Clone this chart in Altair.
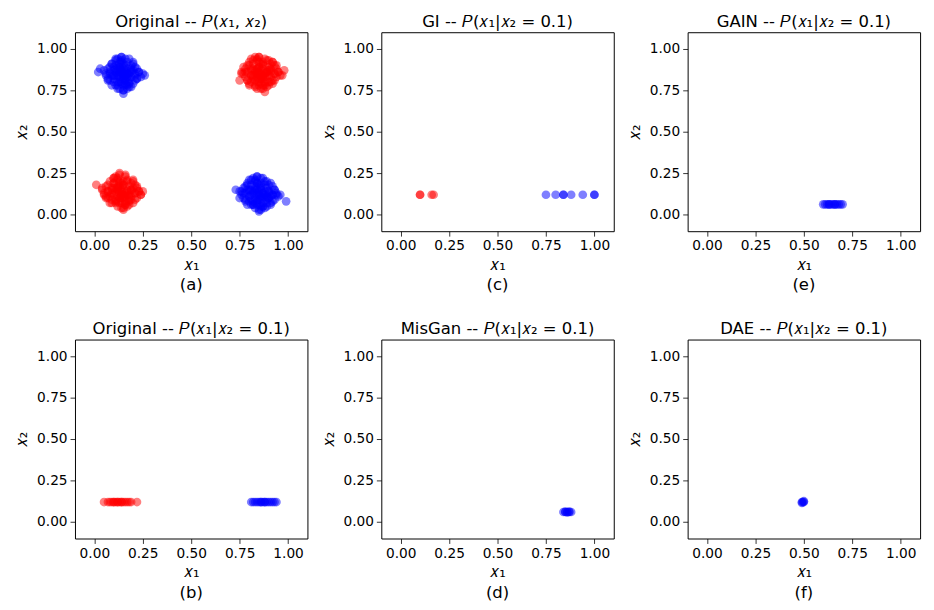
import altair as alt
import pandas as pd

RED = "#ff0000"
BLUE = "#0000ff"
TICKS = [0.0, 0.25, 0.5, 0.75, 1.0]

# ---- panel (a): Original joint distribution ----
A_BLUE_TL_X = [0.15, 0.12, 0.17, 0.10, 0.19, 0.13, 0.16, 0.08, 0.21, 0.14,
               0.11, 0.18, 0.06, 0.23, 0.15, 0.09, 0.20, 0.13, 0.17, 0.12,
               0.16, 0.03, 0.25, 0.10, 0.19, 0.14, 0.07, 0.22, 0.15, 0.11,
               0.18, 0.13, 0.16, 0.02, 0.26, 0.12, 0.17, 0.09, 0.20, 0.15,
               0.13, 0.15, 0.14, 0.16, 0.12, 0.17, 0.14, 0.15, 0.13, 0.16,
               0.11, 0.18, 0.14, 0.15, 0.12, 0.17, 0.13, 0.16, 0.14, 0.15,
               0.10, 0.19, 0.13, 0.16, 0.12, 0.17, 0.14, 0.15, 0.11, 0.18,
               0.08, 0.21, 0.10, 0.19, 0.07, 0.22, 0.09, 0.20, 0.11, 0.18,
               0.06, 0.23, 0.12, 0.17, 0.08, 0.21, 0.10, 0.19, 0.13, 0.16,
               0.09, 0.20, 0.07, 0.22, 0.11, 0.18, 0.12, 0.17, 0.10, 0.19,
               0.14, 0.15, 0.13, 0.16, 0.05, 0.24, 0.08, 0.21, 0.14, 0.15]
A_BLUE_TL_Y = [0.85, 0.87, 0.83, 0.82, 0.88, 0.80, 0.90, 0.86, 0.84, 0.93,
               0.78, 0.79, 0.85, 0.86, 0.75, 0.91, 0.91, 0.86, 0.85, 0.83,
               0.81, 0.88, 0.85, 0.89, 0.77, 0.95, 0.81, 0.82, 0.73, 0.94,
               0.94, 0.89, 0.87, 0.86, 0.84, 0.76, 0.78, 0.84, 0.87, 0.82,
               0.85, 0.84, 0.87, 0.86, 0.84, 0.85, 0.82, 0.88, 0.89, 0.81,
               0.86, 0.85, 0.80, 0.90, 0.88, 0.83, 0.83, 0.84, 0.86, 0.85,
               0.84, 0.87, 0.91, 0.79, 0.80, 0.88, 0.92, 0.78, 0.88, 0.82,
               0.85, 0.85, 0.80, 0.90, 0.88, 0.82, 0.91, 0.79, 0.93, 0.77,
               0.84, 0.86, 0.78, 0.92, 0.81, 0.89, 0.87, 0.83, 0.76, 0.94,
               0.78, 0.92, 0.82, 0.88, 0.90, 0.80, 0.94, 0.76, 0.84, 0.86,
               0.79, 0.91, 0.92, 0.78, 0.87, 0.83, 0.89, 0.81, 0.95, 0.75]

A_RED_TR_X = [0.86, 0.83, 0.89, 0.81, 0.91, 0.85, 0.87, 0.78, 0.93, 0.84,
              0.88, 0.80, 0.92, 0.76, 0.95, 0.86, 0.82, 0.90, 0.84, 0.87,
              0.79, 0.94, 0.85, 0.83, 0.89, 0.77, 0.97, 0.86, 0.81, 0.91,
              0.88, 0.84, 0.75, 0.98, 0.85, 0.82, 0.90, 0.87, 0.80, 0.92,
              0.85, 0.87, 0.86, 0.88, 0.84, 0.89, 0.86, 0.85, 0.87, 0.83,
              0.90, 0.82, 0.86, 0.88, 0.84, 0.87, 0.85, 0.89, 0.83, 0.86,
              0.91, 0.81, 0.85, 0.87, 0.84, 0.88, 0.86, 0.82, 0.90, 0.85,
              0.79, 0.93, 0.81, 0.91, 0.78, 0.94, 0.80, 0.92, 0.82, 0.90,
              0.77, 0.95, 0.83, 0.89, 0.79, 0.93, 0.81, 0.91, 0.84, 0.88,
              0.80, 0.92, 0.78, 0.94, 0.82, 0.90, 0.83, 0.89, 0.81, 0.91,
              0.85, 0.87, 0.84, 0.88, 0.76, 0.96, 0.79, 0.93, 0.85, 0.87]
A_RED_TR_Y = [0.85, 0.87, 0.83, 0.84, 0.88, 0.80, 0.91, 0.86, 0.85, 0.94,
              0.79, 0.90, 0.81, 0.85, 0.86, 0.76, 0.82, 0.93, 0.88, 0.78,
              0.81, 0.90, 0.95, 0.77, 0.86, 0.89, 0.84, 0.83, 0.94, 0.80,
              0.74, 0.85, 0.81, 0.87, 0.89, 0.83, 0.87, 0.82, 0.78, 0.92,
              0.86, 0.84, 0.87, 0.85, 0.83, 0.86, 0.82, 0.89, 0.88, 0.86,
              0.84, 0.84, 0.91, 0.80, 0.88, 0.83, 0.85, 0.87, 0.81, 0.79,
              0.86, 0.87, 0.92, 0.90, 0.80, 0.83, 0.84, 0.88, 0.89, 0.82,
              0.86, 0.85, 0.80, 0.91, 0.88, 0.83, 0.92, 0.79, 0.93, 0.78,
              0.85, 0.86, 0.78, 0.93, 0.81, 0.90, 0.88, 0.83, 0.76, 0.94,
              0.79, 0.92, 0.83, 0.88, 0.91, 0.80, 0.95, 0.77, 0.84, 0.87,
              0.78, 0.92, 0.93, 0.78, 0.86, 0.84, 0.90, 0.81, 0.95, 0.76]

A_RED_BL_X = [0.14, 0.11, 0.17, 0.09, 0.19, 0.13, 0.15, 0.07, 0.21, 0.12,
              0.16, 0.10, 0.18, 0.05, 0.23, 0.14, 0.08, 0.20, 0.12, 0.16,
              0.01, 0.24, 0.13, 0.11, 0.17, 0.06, 0.22, 0.15, 0.10, 0.19,
              0.14, 0.12, 0.04, 0.25, 0.16, 0.09, 0.18, 0.13, 0.20, 0.15,
              0.13, 0.15, 0.14, 0.16, 0.12, 0.17, 0.14, 0.13, 0.15, 0.11,
              0.18, 0.10, 0.14, 0.16, 0.12, 0.15, 0.13, 0.17, 0.11, 0.14,
              0.19, 0.09, 0.13, 0.15, 0.12, 0.16, 0.14, 0.10, 0.18, 0.13,
              0.07, 0.21, 0.09, 0.19, 0.06, 0.22, 0.08, 0.20, 0.10, 0.18,
              0.05, 0.23, 0.11, 0.17, 0.07, 0.21, 0.09, 0.19, 0.12, 0.16,
              0.08, 0.20, 0.06, 0.22, 0.10, 0.18, 0.11, 0.17, 0.09, 0.19,
              0.13, 0.15, 0.12, 0.16, 0.04, 0.24, 0.07, 0.21, 0.13, 0.15]
A_RED_BL_Y = [0.14, 0.16, 0.12, 0.13, 0.15, 0.10, 0.18, 0.14, 0.13, 0.22,
              0.07, 0.19, 0.09, 0.12, 0.14, 0.04, 0.11, 0.21, 0.17, 0.06,
              0.18, 0.12, 0.25, 0.08, 0.20, 0.10, 0.17, 0.03, 0.22, 0.09,
              0.12, 0.15, 0.16, 0.14, 0.24, 0.07, 0.11, 0.19, 0.16, 0.10,
              0.14, 0.12, 0.15, 0.13, 0.11, 0.14, 0.10, 0.17, 0.16, 0.14,
              0.12, 0.12, 0.19, 0.08, 0.16, 0.11, 0.13, 0.15, 0.09, 0.07,
              0.14, 0.15, 0.20, 0.18, 0.08, 0.11, 0.12, 0.16, 0.17, 0.10,
              0.14, 0.13, 0.09, 0.19, 0.17, 0.10, 0.20, 0.07, 0.22, 0.06,
              0.13, 0.14, 0.07, 0.21, 0.10, 0.18, 0.16, 0.11, 0.05, 0.23,
              0.07, 0.20, 0.11, 0.16, 0.19, 0.08, 0.23, 0.05, 0.12, 0.15,
              0.07, 0.20, 0.21, 0.06, 0.15, 0.12, 0.18, 0.09, 0.24, 0.04]

A_BLUE_BR_X = [0.85, 0.82, 0.88, 0.80, 0.90, 0.84, 0.86, 0.77, 0.92, 0.83,
               0.87, 0.79, 0.91, 0.75, 0.94, 0.85, 0.81, 0.89, 0.83, 0.86,
               0.73, 0.99, 0.84, 0.82, 0.88, 0.78, 0.93, 0.85, 0.80, 0.90,
               0.87, 0.83, 0.76, 0.96, 0.86, 0.81, 0.89, 0.84, 0.79, 0.91,
               0.84, 0.86, 0.85, 0.87, 0.83, 0.88, 0.85, 0.84, 0.86, 0.82,
               0.89, 0.81, 0.85, 0.87, 0.83, 0.86, 0.84, 0.88, 0.82, 0.85,
               0.90, 0.80, 0.84, 0.86, 0.83, 0.87, 0.85, 0.81, 0.89, 0.84,
               0.78, 0.92, 0.80, 0.90, 0.77, 0.93, 0.79, 0.91, 0.81, 0.89,
               0.76, 0.94, 0.82, 0.88, 0.78, 0.92, 0.80, 0.90, 0.83, 0.87,
               0.79, 0.91, 0.77, 0.93, 0.81, 0.89, 0.82, 0.88, 0.80, 0.90,
               0.84, 0.86, 0.83, 0.87, 0.75, 0.95, 0.78, 0.92, 0.84, 0.86]
A_BLUE_BR_Y = [0.12, 0.14, 0.10, 0.11, 0.14, 0.08, 0.16, 0.13, 0.12, 0.21,
               0.05, 0.18, 0.07, 0.10, 0.12, 0.03, 0.09, 0.20, 0.15, 0.05,
               0.15, 0.08, 0.23, 0.06, 0.18, 0.08, 0.15, 0.02, 0.21, 0.10,
               0.13, 0.17, 0.14, 0.12, 0.22, 0.06, 0.09, 0.19, 0.15, 0.11,
               0.12, 0.11, 0.14, 0.13, 0.10, 0.12, 0.09, 0.15, 0.15, 0.13,
               0.11, 0.12, 0.18, 0.07, 0.16, 0.10, 0.13, 0.14, 0.08, 0.06,
               0.13, 0.14, 0.19, 0.17, 0.07, 0.10, 0.11, 0.15, 0.16, 0.09,
               0.13, 0.12, 0.08, 0.18, 0.16, 0.09, 0.19, 0.06, 0.21, 0.05,
               0.12, 0.13, 0.06, 0.20, 0.09, 0.17, 0.15, 0.10, 0.04, 0.22,
               0.06, 0.19, 0.10, 0.15, 0.18, 0.07, 0.22, 0.04, 0.11, 0.14,
               0.06, 0.19, 0.20, 0.05, 0.14, 0.11, 0.17, 0.08, 0.23, 0.03]

# ---- panel (b): Original conditional ----
B_RED_X = [0.05, 0.07, 0.08, 0.09, 0.10, 0.11, 0.12, 0.13, 0.14, 0.15,
           0.16, 0.17, 0.18, 0.19, 0.22, 0.12, 0.14, 0.10]
B_RED_Y = [0.12] * 18
B_BLUE_X = [0.81, 0.82, 0.83, 0.84, 0.85, 0.86, 0.87, 0.88, 0.89, 0.90,
            0.91, 0.92, 0.93, 0.94, 0.86, 0.88]
B_BLUE_Y = [0.12] * 16

# ---- panel (c): GI ----
C_RED_X = [0.10, 0.10, 0.16, 0.17]
C_RED_Y = [0.12, 0.12, 0.12, 0.12]
C_BLUE_X = [0.75, 0.80, 0.84, 0.84, 0.88, 0.94, 1.00, 1.00]
C_BLUE_Y = [0.12, 0.12, 0.12, 0.12, 0.12, 0.12, 0.12, 0.12]

# ---- panel (d): MisGan ----
D_BLUE_X = [0.84, 0.85, 0.86, 0.87, 0.88, 0.85, 0.86, 0.87]
D_BLUE_Y = [0.06, 0.06, 0.06, 0.06, 0.06, 0.062, 0.058, 0.062]

# ---- panel (e): GAIN ----
E_BLUE_X = [0.60, 0.61, 0.62, 0.63, 0.64, 0.65, 0.66, 0.67, 0.68, 0.69,
            0.70, 0.63, 0.66]
E_BLUE_Y = [0.062] * 13

# ---- panel (f): DAE ----
F_BLUE_X = [0.49, 0.495, 0.50, 0.49, 0.50]
F_BLUE_Y = [0.12, 0.12, 0.12, 0.115, 0.125]

TITLES = {
    "a": "Original -- 𝑃(𝑥₁, 𝑥₂)",
    "b": "Original -- 𝑃(𝑥₁|𝑥₂ = 0.1)",
    "c": "GI -- 𝑃(𝑥₁|𝑥₂ = 0.1)",
    "d": "MisGan -- 𝑃(𝑥₁|𝑥₂ = 0.1)",
    "e": "GAIN -- 𝑃(𝑥₁|𝑥₂ = 0.1)",
    "f": "DAE -- 𝑃(𝑥₁|𝑥₂ = 0.1)",
}

W = 236
H = 202
FONT = "DejaVu Sans"


def frame(groups):
    rows = []
    for xs, ys, col in groups:
        for x, y in zip(xs, ys):
            rows.append({"x": x, "y": y, "c": col})
    return pd.DataFrame(rows)


def panel(groups, key):
    df = frame(groups)
    scale = alt.Scale(domain=[-0.1, 1.1], nice=False, zero=False)
    pts = alt.Chart(df).mark_circle(size=78, opacity=0.5, strokeWidth=0).encode(
        x=alt.X("x:Q", scale=scale,
                axis=alt.Axis(values=TICKS, format=".2f", title="𝑥₁")),
        y=alt.Y("y:Q", scale=scale,
                axis=alt.Axis(values=TICKS, format=".2f", title="𝑥₂")),
        color=alt.Color("c:N", scale=None),
    )
    cap = alt.Chart(pd.DataFrame({"t": [f"({key})"]})).mark_text(
        font=FONT, fontSize=16.7, baseline="middle", align="center", color="black"
    ).encode(x=alt.value(W / 2), y=alt.value(H + 55), text="t:N")
    return alt.layer(pts, cap).properties(
        width=W, height=H,
        title=alt.TitleParams(TITLES[key], font=FONT, fontSize=16.7,
                              fontWeight="normal", color="black", offset=2),
    )


pa = panel([(A_BLUE_TL_X, A_BLUE_TL_Y, BLUE), (A_RED_TR_X, A_RED_TR_Y, RED),
            (A_RED_BL_X, A_RED_BL_Y, RED), (A_BLUE_BR_X, A_BLUE_BR_Y, BLUE)], "a")
pb = panel([(B_RED_X, B_RED_Y, RED), (B_BLUE_X, B_BLUE_Y, BLUE)], "b")
pc = panel([(C_RED_X, C_RED_Y, RED), (C_BLUE_X, C_BLUE_Y, BLUE)], "c")
pd_ = panel([(D_BLUE_X, D_BLUE_Y, BLUE)], "d")
pe = panel([(E_BLUE_X, E_BLUE_Y, BLUE)], "e")
pf = panel([(F_BLUE_X, F_BLUE_Y, BLUE)], "f")

chart = alt.concat(
    pa, pc, pe, pb, pd_, pf, columns=3,
    spacing=alt.RowColnumber(row=110, column=75), bounds="flush",
).properties(
    padding={"top": 0, "left": 5, "right": 5, "bottom": 5}
).configure_view(
    stroke="black", strokeWidth=1
).configure_axis(
    grid=False, domain=False,
    labelFont=FONT, labelFontSize=13.9, labelColor="black", labelPadding=3,
    tickColor="black", tickSize=5, tickWidth=0.8,
    titleFont=FONT, titleFontSize=16.7, titleFontWeight="normal", titleColor="black",
).configure_axisX(titlePadding=4).configure_axisY(titlePadding=6)

chart.save("out.html", embed_options={"renderer": "svg", "actions": False})
